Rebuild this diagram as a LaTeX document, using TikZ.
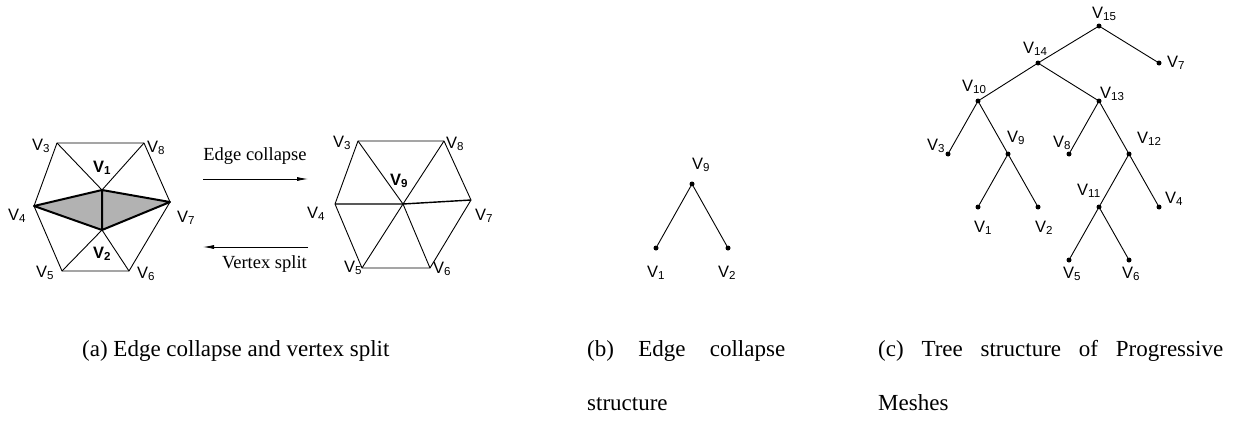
\documentclass[tikz,border=0pt]{standalone}
\usepackage{fontspec}
\setmainfont{Liberation Serif}
\setsansfont{Liberation Sans}
\usetikzlibrary{arrows.meta}
\newcommand{\vname}[1]{V\textsubscript{#1}}

\begin{document}
\begin{tikzpicture}[x=1pt, y=-1pt,
    every node/.style={inner sep=0pt},
    edge/.style={line width=0.9pt},
    heavy/.style={line width=2pt},
    vlab/.style={font=\sffamily\fontsize{16.5}{18}\selectfont, anchor=base west},
    blab/.style={vlab, font=\sffamily\bfseries\fontsize{16.5}{18}\selectfont},
    dot/.style={circle, fill=black, minimum size=5pt},
    arrow/.style={-{Latex[length=11pt, width=4pt]}, line width=0.8pt},
    annot/.style={font=\fontsize{18.5}{20}\selectfont},
    capt/.style={font=\fontsize{23}{54}\selectfont, anchor=base west, align=left}
]
\useasboundingbox (0,0) rectangle (1247,421);

% (a) mesh before and after the collapse
\coordinate (a3) at (57,143);  \coordinate (a8) at (144,143);
\coordinate (a4) at (34,206);  \coordinate (a7) at (170,202);
\coordinate (a5) at (62,271);  \coordinate (a6) at (129,271);
\coordinate (a1) at (102,190); \coordinate (a2) at (102,230);

\fill[black!30] (a4) -- (a1) -- (a7) -- (a2) -- cycle;
\draw[edge] (a3) -- (a8) -- (a7) -- (a6) -- (a5) -- (a4) -- cycle;
\foreach \p/\q in {a3/a1, a8/a1, a5/a2, a6/a2}
    \draw[edge] (\p) -- (\q);
\draw[heavy, line join=round] (a4) -- (a1) -- (a7) -- (a2) -- cycle (a1) -- (a2);

\node[vlab] (la3) at (32,150) {\vname{3}};
\node[vlab] (la8) at (147,152) {\vname{8}};
\node[blab] (la1) at (93,172) {\vname{1}};
\node[vlab] (la4) at (8,220) {\vname{4}};
\node[vlab] (la7) at (177,222) {\vname{7}};
\node[blab] (la2) at (93,258) {\vname{2}};
\node[vlab] (la5) at (36,277) {\vname{5}};
\node[vlab] (la6) at (137,278) {\vname{6}};

\coordinate (up1) at (203,179); \coordinate (up2) at (308,179);
\coordinate (dn1) at (308,247); \coordinate (dn2) at (203,247);
\draw[arrow] (up1) -- (up2);
\draw[arrow] (dn1) -- (dn2);
\node[annot, anchor=base] (collapse) at (255,160) {Edge collapse};
\node[annot, anchor=base east] (split) at (307,268) {Vertex split};

\coordinate (b3) at (358,141); \coordinate (b8) at (444,141);
\coordinate (b4) at (335,204); \coordinate (b7) at (471,200);
\coordinate (b5) at (362,268); \coordinate (b6) at (430,268);
\coordinate (b9) at (403,204);

\draw[edge] (b3) -- (b8) -- (b7) -- (b6) -- (b5) -- (b4) -- cycle;
\foreach \p in {b3, b8, b5, b6}
    \draw[edge] (b9) -- (\p);
\draw[heavy, line width=1.4pt] (b4) -- (b9) -- (b7);

\node[vlab] (lb3) at (333,147) {\vname{3}};
\node[vlab] (lb8) at (446,148) {\vname{8}};
\node[blab] (lb9) at (390,185) {\vname{9}};
\node[vlab] (lb4) at (307,218) {\vname{4}};
\node[vlab] (lb7) at (475,220) {\vname{7}};
\node[vlab] (lb5) at (344,272) {\vname{5}};
\node[vlab] (lb6) at (433,273) {\vname{6}};

% (b) one collapse as a tree
\node[dot] (s9) at (692,184) {};
\node[dot] (s1) at (656,248) {};
\node[dot] (s2) at (728,248) {};
\draw[edge] (s1) -- (s9) -- (s2);
\node[vlab] (ls9) at (692,169) {\vname{9}};
\node[vlab] (ls1) at (647,277) {\vname{1}};
\node[vlab] (ls2) at (718,277) {\vname{2}};

% (c) the whole tree
\foreach \n/\x/\y in {15/1099/26, 14/1038/63, 7/1159/63, 10/978/101, 13/1099/101,
    3/948/154, 9/1008/154, 8/1069/154, 12/1129/154, 1/978/207, 2/1038/207,
    11/1099/207, 4/1159/207, 5/1069/260, 6/1129/260}
    \node[dot] (t\n) at (\x,\y) {};
\foreach \p/\q in {15/14, 15/7, 14/10, 14/13, 10/3, 10/9, 9/1, 9/2,
    13/8, 13/12, 12/11, 12/4, 11/5, 11/6}
    \draw[edge] (t\p) -- (t\q);
\foreach \n/\x/\y in {15/1092/18, 14/1023/53, 7/1167/67, 10/962/91, 13/1100/98,
    3/927/150, 9/1007/142, 8/1053/147, 12/1137/143, 1/974/232, 2/1035/232,
    11/1077/195, 4/1165/203, 5/1063/278, 6/1122/278}
    \node[vlab] (lt\n) at (\x,\y) {\vname{\n}};

% captions
\node[capt] (capa) at (82,356) {(a) Edge collapse and vertex split};
\node[capt] (capb) at (587,410) {\makebox[198pt][s]{(b) Edge collapse}\\structure};
\node[capt] (capc) at (878,410) {\makebox[345pt][s]{(c) Tree structure of Progressive}\\Meshes};

\end{tikzpicture}
\end{document}
